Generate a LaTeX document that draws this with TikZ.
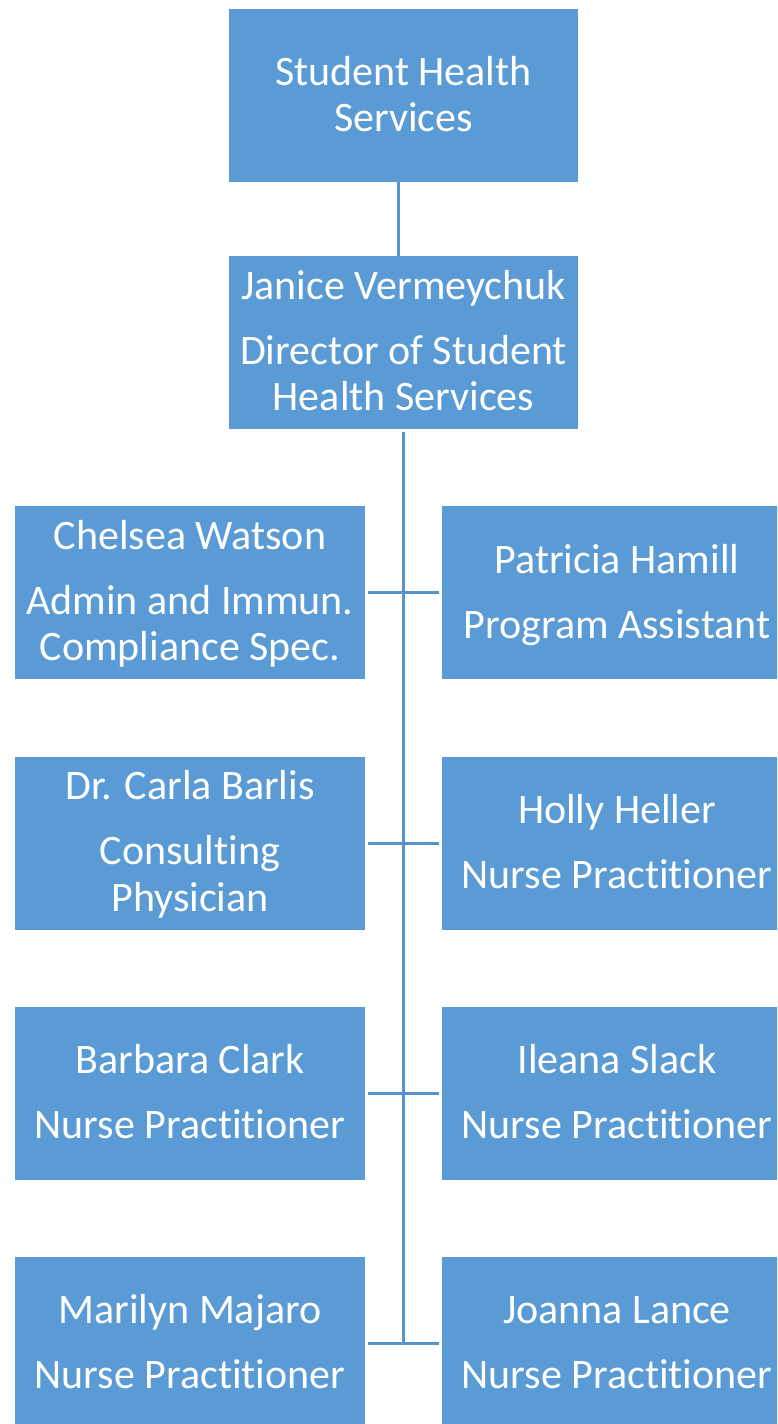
\documentclass[tikz,border=0pt]{standalone}
\usepackage{fontspec}
\setmainfont{Carlito}[RawFeature=-liga]
\definecolor{boxblue}{HTML}{5B9BD5}
\definecolor{lineblue}{HTML}{5892CC}
\begin{document}
\begin{tikzpicture}[x=1pt,y=-1pt,
  orgbox/.style={rectangle, fill=boxblue, draw=none, inner sep=0pt,
    minimum width=350pt, minimum height=173pt},
  txt/.style={anchor=base, text=white, inner sep=0pt,
    font=\fontsize{42}{46}\selectfont},
  conn/.style={draw=lineblue, line width=3pt}]
\useasboundingbox (0,0) rectangle (777,1424);
\clip (0,0) rectangle (777,1424);
% boxes
\node[orgbox, minimum width=349pt] (top) at (403.5,95.5) {};
\node[orgbox, minimum width=349pt] (dir) at (403.5,342.5) {};
\node[orgbox] (l1) at (190,592.5) {};
\node[orgbox] (r1) at (617,592.5) {};
\node[orgbox] (l2) at (190,843) {};
\node[orgbox] (r2) at (617,843) {};
\node[orgbox] (l3) at (190,1093.5) {};
\node[orgbox] (r3) at (617,1093.5) {};
\node[orgbox] (l4) at (190,1343.5) {};
\node[orgbox] (r4) at (617,1343.5) {};
% texts
\node[txt] (t1) at (403.5,85.5) {Student Health};
\node[txt] (t2) at (403.5,131.5) {Services};
\node[txt] (d1) at (403.5,299) {Janice Vermeychuk};
\node[txt] (d2) at (403.5,364) {Director of Student};
\node[txt] (d3) at (403.5,410.5) {Health Services};
\node[txt] (a1) at (190,549) {Chelsea Watson};
\node[txt] (a2) at (190,614) {Admin and Immun.};
\node[txt] (a3) at (190,660.5) {Compliance Spec.};
\node[txt] (b1) at (617,573) {Patricia Hamill};
\node[txt] (b2) at (617,638) {Program Assistant};
\node[txt] (c1) at (190,799.5) {Dr. Carla Barlis};
\node[txt] (c2) at (190,864.5) {Consulting};
\node[txt] (c3) at (190,911) {Physician};
\node[txt] (e1) at (617,823.5) {Holly Heller};
\node[txt] (e2) at (617,888.5) {Nurse Practitioner};
\node[txt] (f1) at (190,1073.5) {Barbara Clark};
\node[txt] (f2) at (190,1138.5) {Nurse Practitioner};
\node[txt] (g1) at (617,1073.5) {Ileana Slack};
\node[txt] (g2) at (617,1138.5) {Nurse Practitioner};
\node[txt] (h1) at (190,1323.5) {Marilyn Majaro};
\node[txt] (h2) at (190,1388.5) {Nurse Practitioner};
\node[txt] (k1) at (617,1323.5) {Joanna Lance};
\node[txt] (k2) at (617,1388.5) {Nurse Practitioner};
% connectors
\coordinate (trunkend) at (403.5,1345);
\draw[conn] ([xshift=-5.5pt]top.south) -- ([xshift=-5.5pt]dir.north);
\draw[conn] ([yshift=-3pt]dir.south) -- (trunkend);
\draw[conn] ([xshift=3pt]l1.east) -- ([xshift=-3pt]r1.west);
\draw[conn] ([xshift=3pt]l2.east) -- ([xshift=-3pt]r2.west);
\draw[conn] ([xshift=3pt]l3.east) -- ([xshift=-3pt]r3.west);
\draw[conn] ([xshift=3pt]l4.east) -- ([xshift=-3pt]r4.west);
\end{tikzpicture}
\end{document}
